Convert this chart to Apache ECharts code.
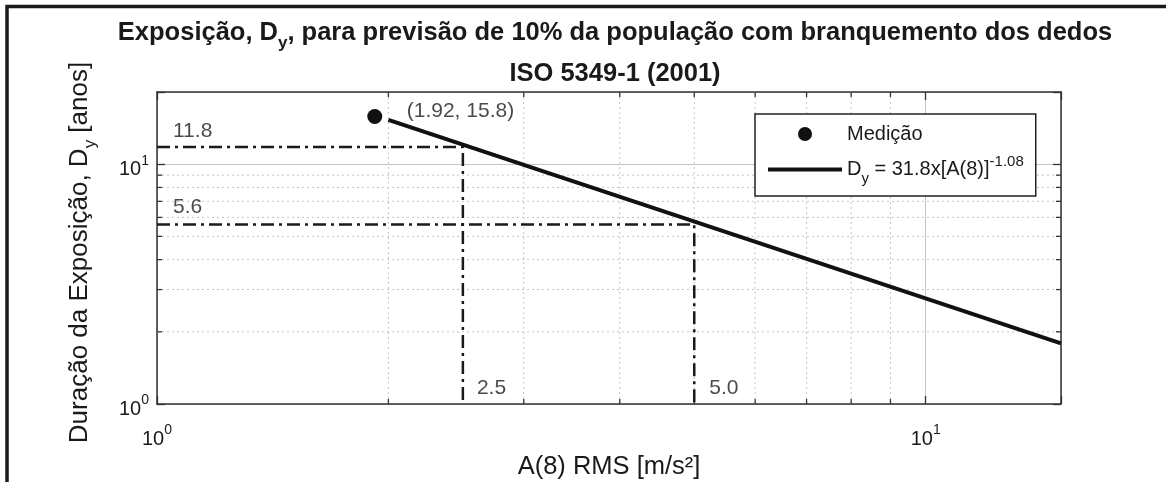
<!DOCTYPE html>
<html>
<head>
<meta charset="utf-8">
<title>Exposição Dy - ISO 5349-1</title>
<script src="https://cdn.jsdelivr.net/npm/echarts@6/dist/echarts.min.js"></script>
<style>
  html, body { margin: 0; padding: 0; background: #fff; }
  #chart { width: 1166px; height: 482px; }
</style>
</head>
<body>
<div id="chart"></div>
<script>
// limites dos eixos (escala log)
const xMin = 1, xMax = 15;
const yMin = 1, yMax = 20;
// subdivisões (grade pontilhada)
const xMinorTicks = [2, 3, 4, 5, 6, 7, 8, 9];
const yMinorTicks = [2, 3, 4, 5, 6, 7, 8, 9];

// medição
const medicao = [[1.92, 15.8]];
// reta Dy = 31.8x[A(8)]^-1.08 (extremos)
const ajuste = [[2.0, 15.3], [15, 1.79]];
// linhas traço-ponto
const ref1 = [[1, 11.8], [2.5, 11.8], [2.5, 1]];
const ref2 = [[1, 5.6], [5.0, 5.6], [5.0, 1]];
// anotações
const notaPontos = [[1.92, 15.8], [1, 11.8], [1, 5.6], [2.5, 1], [5.0, 1]];
const notaTextos = ['(1.92, 15.8)', '11.8', '5.6', '2.5', '5.0'];

const FONT = '"Liberation Sans", Arial, Helvetica, sans-serif';
const INK = '#1a1a1a';
const notaOffsets = [[27, -5], [11, -16], [11, -17], [9, -16], [10, -16]];

const richSup = {
  b: { fontSize: 20, fontFamily: FONT, color: INK, padding: [11, 0, 0, 0] },
  sup: { fontSize: 14, fontFamily: FONT, color: INK, padding: [0, 0, 7, 0] }
};

function potencia(v) {
  const e = Math.round(Math.log10(v));
  if (Math.abs(Math.log10(v) - e) < 1e-6) return '{b|10}{sup|' + e + '}';
  return '';
}

function gradeX(params, api) {
  const v = api.value(0);
  const p0 = api.coord([v, yMin]);
  const p1 = api.coord([v, yMax]);
  return { type: 'group', children: [
    { type: 'line', shape: { x1: p0[0], y1: p0[1], x2: p1[0], y2: p1[1] }, style: { stroke: '#c4c4c4', lineWidth: 1, lineDash: [2, 3] } },
    { type: 'line', shape: { x1: p0[0], y1: p0[1], x2: p0[0], y2: p0[1] - 5 }, style: { stroke: '#333', lineWidth: 1.3 } },
    { type: 'line', shape: { x1: p1[0], y1: p1[1], x2: p1[0], y2: p1[1] + 5 }, style: { stroke: '#333', lineWidth: 1.3 } }
  ]};
}

function gradeY(params, api) {
  const v = api.value(1);
  const p0 = api.coord([xMin, v]);
  const p1 = api.coord([xMax, v]);
  return { type: 'group', children: [
    { type: 'line', shape: { x1: p0[0], y1: p0[1], x2: p1[0], y2: p1[1] }, style: { stroke: '#c4c4c4', lineWidth: 1, lineDash: [2, 3] } },
    { type: 'line', shape: { x1: p0[0], y1: p0[1], x2: p0[0] + 5, y2: p0[1] }, style: { stroke: '#333', lineWidth: 1.3 } },
    { type: 'line', shape: { x1: p1[0], y1: p1[1], x2: p1[0] - 5, y2: p1[1] }, style: { stroke: '#333', lineWidth: 1.3 } }
  ]};
}

const eixoComum = {
  type: 'log', logBase: 10,
  axisLine: { show: true, onZero: false, lineStyle: { color: '#333', width: 1.5 } },
  axisTick: { show: true, inside: true, length: 8, lineStyle: { color: '#333', width: 1.3 } }
};

const myChart = echarts.init(document.getElementById('chart'));

const option = {
  backgroundColor: '#fff',
  animation: false,
  textStyle: { fontFamily: FONT },
  title: [
    {
      text: 'Exposição, D{sub|y}, para previsão de 10% da população com branquemento dos dedos',
      left: 610, top: 9, textAlign: 'center',
      textStyle: {
        fontSize: 25.5, fontWeight: 'bold', color: INK, fontFamily: FONT,
        rich: { sub: { fontSize: 17, fontWeight: 'bold', color: INK, fontFamily: FONT, padding: [21, 0, 0, 0] } }
      }
    },
    {
      text: 'ISO 5349-1 (2001)',
      left: 610, top: 56, textAlign: 'center',
      textStyle: { fontSize: 25.5, fontWeight: 'bold', color: INK, fontFamily: FONT }
    }
  ],
  grid: { left: 157, right: 105, top: 92, bottom: 78, containLabel: false, outerBoundsMode: 'none' },
  legend: {
    left: 755, top: 114,
    orient: 'vertical',
    padding: [10, 12, 10, 13],
    itemGap: 10,
    itemWidth: 74, itemHeight: 14,
    borderColor: '#222', borderWidth: 1.5, backgroundColor: '#fff',
    data: [
      { name: 'Medição', icon: 'circle' },
      { name: 'Dy = 31.8x[A(8)]^-1.08', icon: 'path://M0,0H74V4H0Z' }
    ],
    formatter: function (name) {
      if (name === 'Medição') return '{t|Medição}';
      return '{t|D}{sub|y}{t| = 31.8x[A(8)]}{sup|-1.08}';
    },
    textStyle: {
      fontSize: 20, color: INK, fontFamily: FONT,
      rich: {
        t: { fontSize: 20, color: INK, fontFamily: FONT },
        sub: { fontSize: 15, color: INK, fontFamily: FONT, padding: [18, 0, 0, 0] },
        sup: { fontSize: 15, color: INK, fontFamily: FONT, padding: [0, 0, 16, 0] }
      }
    }
  },
  xAxis: [
    Object.assign({}, eixoComum, {
      position: 'bottom', min: xMin, max: xMax,
      name: 'A(8) RMS [m/s²]', nameLocation: 'middle', nameGap: 49,
      nameTextStyle: { fontSize: 25.5, color: INK, fontFamily: FONT },
      axisLabel: { margin: 14, formatter: potencia, rich: richSup, color: INK },
      splitLine: { show: true, lineStyle: { color: '#c4c4c4', width: 1 } }
    }),
    Object.assign({}, eixoComum, {
      position: 'top', min: xMin, max: xMax,
      axisLabel: { show: false }, splitLine: { show: false }
    })
  ],
  yAxis: [
    Object.assign({}, eixoComum, {
      position: 'left', min: yMin, max: yMax,
      name: 'Duração da Exposição, D{sub|y} [anos]', nameLocation: 'middle', nameGap: 58, nameRotate: 90,
      nameTextStyle: {
        fontSize: 26, color: INK, fontFamily: FONT, padding: [0, 9, 0, 0],
        rich: { sub: { fontSize: 17, color: INK, fontFamily: FONT, padding: [21, 0, 0, 0] } }
      },
      axisLabel: { margin: 8, formatter: potencia, rich: richSup, color: INK },
      splitLine: { show: true, lineStyle: { color: '#c4c4c4', width: 1 } }
    }),
    Object.assign({}, eixoComum, {
      position: 'right', min: yMin, max: yMax,
      axisLabel: { show: false }, splitLine: { show: false }
    })
  ],
  series: [
    {
      type: 'custom', name: 'gradeX', silent: true, z: 1,
      renderItem: gradeX, data: xMinorTicks.map(v => [v, yMin]), encode: { x: 0, y: 1 }
    },
    {
      type: 'custom', name: 'gradeY', silent: true, z: 1,
      renderItem: gradeY, data: yMinorTicks.map(v => [xMin, v]), encode: { x: 0, y: 1 }
    },
    {
      type: 'line', name: 'ref1', data: ref1, symbol: 'none', z: 3,
      lineStyle: { color: INK, width: 2.5, type: [13, 5, 3, 5] }
    },
    {
      type: 'line', name: 'ref2', data: ref2, symbol: 'none', z: 3,
      lineStyle: { color: INK, width: 2.5, type: [13, 5, 3, 5] }
    },
    {
      type: 'line', name: 'Dy = 31.8x[A(8)]^-1.08', data: ajuste, symbol: 'none', z: 4,
      itemStyle: { color: '#111' },
      lineStyle: { color: '#111', width: 4 }
    },
    {
      type: 'scatter', name: 'Medição', data: medicao, symbol: 'circle', symbolSize: 15, z: 5,
      itemStyle: { color: '#111', opacity: 1 }
    },
    {
      type: 'scatter', name: 'notas', symbolSize: 0, z: 6, silent: true,
      data: notaPontos.map((p, i) => ({
        value: p,
        label: { offset: notaOffsets[i] }
      })),
      label: {
        show: true, position: 'right', distance: 5,
        fontSize: 21, color: INK, fontFamily: FONT,
        formatter: function (p) { return notaTextos[p.dataIndex]; }
      }
    }
  ],
  graphic: [
    {
      type: 'rect', silent: true, z: 100,
      shape: { x: 7, y: 6.5, width: 1300, height: 600 },
      style: { fill: 'none', stroke: '#1a1a1a', lineWidth: 3.5 }
    }
  ]
};

myChart.setOption(option);
</script>
</body>
</html>
